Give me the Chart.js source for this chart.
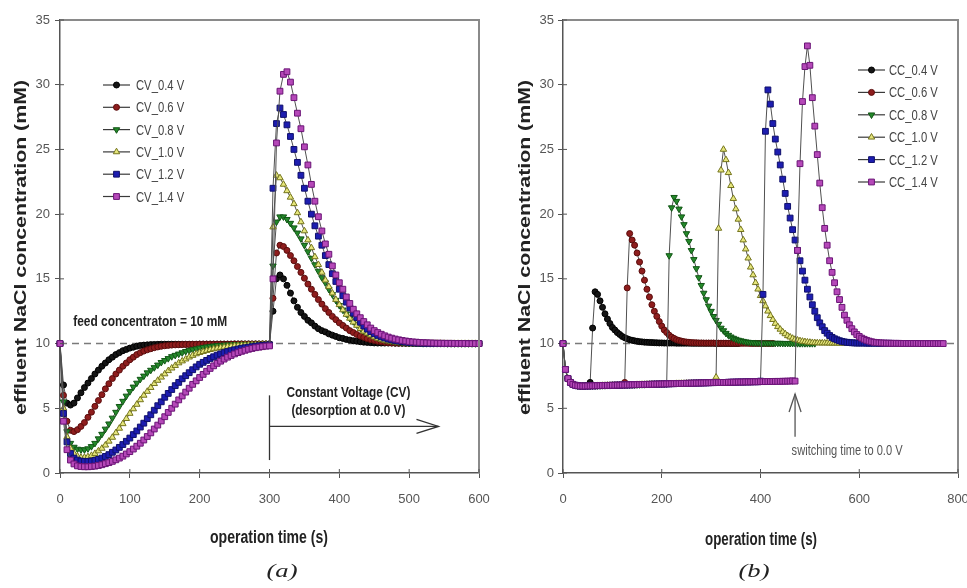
<!DOCTYPE html>
<html>
<head>
<meta charset="utf-8">
<script src="https://cdn.jsdelivr.net/npm/chart.js@4.4.0/dist/chart.umd.min.js"></script>
<style>
  html, body { margin: 0; padding: 0; background: #fff; }
  #wrap { position: relative; width: 967px; height: 588px; overflow: hidden; background: #fff; }
  #left { position: absolute; left: 0; top: 0; width: 500px; height: 588px; }
  #right { position: absolute; left: 483px; top: 0; width: 484px; height: 588px; }
</style>
</head>
<body>
<div id="wrap">
  <canvas id="left" width="500" height="588"></canvas>
  <canvas id="right" width="484" height="588"></canvas>
</div>
<script>
// sampling interval of the simulation output (s) and feed level (mM)
const STEP = 5;
const FEED = 10;

const cvLabels = ['CV_0.4 V', 'CV_0.6 V', 'CV_0.8 V', 'CV_1.0 V', 'CV_1.2 V', 'CV_1.4 V'];
const ccLabels = ['CC_0.4 V', 'CC_0.6 V', 'CC_0.8 V', 'CC_1.0 V', 'CC_1.2 V', 'CC_1.4 V'];
const xTicksA = { max: 600, step: 100 };
const xTicksB = { max: 800, step: 200 };
const yTicks = { max: 35, step: 5 };

// (a) constant voltage, t = 0..600 s every 5 s
const cv04 = [10, 6.8, 5.4, 5.25, 5.4, 5.8, 6.2, 6.6, 6.95, 7.3,
  7.65, 7.95, 8.25, 8.5, 8.75, 8.95, 9.15, 9.3, 9.45, 9.55,
  9.65, 9.72, 9.8, 9.85, 9.88, 9.9, 9.92, 9.93, 9.94, 9.95,
  9.95, 9.95, 9.95, 9.95, 9.95, 9.95, 9.95, 9.95, 9.95, 9.95,
  9.96, 9.96, 9.96, 9.96, 9.96, 9.96, 9.96, 9.96, 9.96, 9.96,
  9.97, 9.97, 9.97, 9.97, 9.97, 9.97, 9.97, 9.97, 9.97, 9.97,
  9.98,
  12.5, 15.0, 15.3, 15.0, 14.5, 13.9, 13.3, 12.8, 12.4, 12.1,
  11.8, 11.6, 11.35, 11.15, 11.0, 10.9, 10.75, 10.65, 10.55, 10.45,
  10.4, 10.32, 10.27, 10.22, 10.18, 10.14, 10.11, 10.09, 10.07, 10.05,
  10.04, 10.04, 10.04, 10.04, 10.04, 10.03, 10.03, 10.03, 10.03, 10.03,
  10.02, 10.02, 10.02, 10.02, 10.02, 10.01, 10.01, 10.01, 10.01, 10.01,
  10.0, 10.0, 10.0, 10.0, 10.0, 10.0, 10.0, 10.0, 10.0, 10.0];
const cv06 = [10, 6.0, 4.0, 3.3, 3.2, 3.35, 3.6, 3.9, 4.3, 4.7,
  5.15, 5.6, 6.05, 6.5, 6.9, 7.3, 7.65, 7.95, 8.25, 8.5,
  8.75, 8.95, 9.15, 9.3, 9.42, 9.52, 9.6, 9.68, 9.74, 9.79,
  9.83, 9.86, 9.88, 9.9, 9.91, 9.92, 9.93, 9.93, 9.94, 9.94,
  9.95, 9.95, 9.95, 9.95, 9.95, 9.95, 9.95, 9.95, 9.95, 9.95,
  9.96, 9.96, 9.96, 9.96, 9.96, 9.96, 9.96, 9.96, 9.96, 9.96,
  9.97,
  13.5, 17.0, 17.6, 17.5, 17.2, 16.8, 16.4, 15.95, 15.5, 15.05,
  14.6, 14.2, 13.8, 13.4, 13.05, 12.7, 12.4, 12.1, 11.85, 11.6,
  11.4, 11.2, 11.0, 10.85, 10.7, 10.58, 10.48, 10.38, 10.3, 10.24,
  10.18, 10.14, 10.1, 10.07, 10.05, 10.04, 10.03, 10.03, 10.02, 10.02,
  10.02, 10.01, 10.01, 10.01, 10.01, 10.01, 10.01, 10.01, 10.01, 10.01,
  10.0, 10.0, 10.0, 10.0, 10.0, 10.0, 10.0, 10.0, 10.0, 10.0];
const cv08 = [10, 5.5, 3.2, 2.3, 2.0, 1.85, 1.8, 1.8, 1.88, 2.05,
  2.3, 2.65, 3.0, 3.4, 3.8, 4.25, 4.7, 5.15, 5.55, 5.95,
  6.3, 6.65, 6.95, 7.25, 7.5, 7.75, 7.95, 8.15, 8.35, 8.55,
  8.7, 8.85, 9.0, 9.1, 9.2, 9.3, 9.4, 9.47, 9.54, 9.6,
  9.66, 9.71, 9.75, 9.79, 9.82, 9.85, 9.87, 9.89, 9.9, 9.91,
  9.92, 9.92, 9.93, 9.93, 9.94, 9.94, 9.94, 9.95, 9.95, 9.95,
  9.96,
  16.0, 19.4, 19.8, 19.8, 19.6, 19.3, 18.95, 18.55, 18.1, 17.6,
  17.1, 16.6, 16.1, 15.6, 15.1, 14.7, 14.2, 13.8, 13.35, 12.95,
  12.6, 12.3, 11.95, 11.7, 11.45, 11.2, 11.0, 10.85, 10.7, 10.58,
  10.47, 10.38, 10.3, 10.24, 10.19, 10.15, 10.11, 10.08, 10.06, 10.04,
  10.03, 10.02, 10.02, 10.01, 10.01, 10.01, 10.01, 10.01, 10.01, 10.01,
  10.0, 10.0, 10.0, 10.0, 10.0, 10.0, 10.0, 10.0, 10.0, 10.0];
const cv10 = [10, 5.0, 2.8, 1.9, 1.5, 1.3, 1.2, 1.2, 1.25, 1.35,
  1.5, 1.7, 1.9, 2.15, 2.45, 2.75, 3.1, 3.45, 3.8, 4.2,
  4.6, 4.95, 5.3, 5.65, 6.0, 6.3, 6.6, 6.9, 7.15, 7.4,
  7.65, 7.9, 8.1, 8.3, 8.5, 8.65, 8.8, 8.95, 9.08, 9.2,
  9.3, 9.38, 9.46, 9.53, 9.59, 9.64, 9.69, 9.73, 9.77, 9.8,
  9.83, 9.85, 9.87, 9.89, 9.9, 9.91, 9.92, 9.93, 9.94, 9.95,
  9.95,
  19.0, 23.0, 22.8, 22.3, 21.8, 21.3, 20.8, 20.1, 19.4, 18.7,
  18.0, 17.4, 16.7, 16.1, 15.5, 14.9, 14.4, 13.9, 13.4, 13.0,
  12.6, 12.25, 11.95, 11.65, 11.4, 11.15, 10.95, 10.8, 10.65, 10.5,
  10.4, 10.32, 10.25, 10.2, 10.15, 10.12, 10.09, 10.07, 10.05, 10.04,
  10.03, 10.02, 10.02, 10.01, 10.01, 10.01, 10.01, 10.01, 10.01, 10.01,
  10.0, 10.0, 10.0, 10.0, 10.0, 10.0, 10.0, 10.0, 10.0, 10.0];
const cv12 = [10, 4.6, 2.4, 1.5, 1.15, 1.0, 0.92, 0.9, 0.9, 0.92,
  0.97, 1.05, 1.15, 1.28, 1.42, 1.6, 1.78, 1.98, 2.2, 2.45,
  2.7, 2.97, 3.25, 3.55, 3.85, 4.2, 4.5, 4.85, 5.2, 5.5,
  5.85, 6.15, 6.45, 6.75, 7.0, 7.28, 7.52, 7.75, 7.98, 8.2,
  8.4, 8.55, 8.7, 8.85, 8.98, 9.1, 9.2, 9.3, 9.38, 9.45,
  9.52, 9.58, 9.64, 9.68, 9.72, 9.76, 9.8, 9.83, 9.86, 9.88,
  9.9,
  22.0, 27.0, 28.2, 27.7, 26.9, 26.0, 25.0, 24.0, 23.0, 22.0,
  21.0, 20.0, 19.1, 18.3, 17.6, 16.8, 16.1, 15.4, 14.8, 14.2,
  13.7, 13.2, 12.75, 12.35, 12.0, 11.65, 11.35, 11.12, 10.92, 10.76,
  10.63, 10.52, 10.43, 10.35, 10.29, 10.24, 10.19, 10.15, 10.12, 10.09,
  10.07, 10.05, 10.04, 10.03, 10.02, 10.01, 10.01, 10.01, 10.01, 10.01,
  10.0, 10.0, 10.0, 10.0, 10.0, 10.0, 10.0, 10.0, 10.0, 10.0];
const cv14 = [10, 4.0, 1.8, 1.0, 0.7, 0.55, 0.5, 0.48, 0.48, 0.5,
  0.53, 0.58, 0.64, 0.72, 0.8, 0.9, 1.02, 1.15, 1.3, 1.47,
  1.65, 1.85, 2.07, 2.3, 2.55, 2.82, 3.1, 3.4, 3.7, 4.02,
  4.35, 4.68, 5.0, 5.32, 5.65, 5.95, 6.25, 6.55, 6.85, 7.12,
  7.38, 7.62, 7.86, 8.08, 8.28, 8.47, 8.64, 8.8, 8.95, 9.08,
  9.2, 9.3, 9.4, 9.48, 9.56, 9.62, 9.68, 9.72, 9.76, 9.8,
  9.82,
  15.0, 25.5, 29.5, 30.8, 31.0, 30.2, 29.0, 27.8, 26.6, 25.2,
  23.8, 22.3, 21.0, 19.8, 18.7, 17.7, 16.9, 16.0, 15.3, 14.7,
  14.2, 13.6, 13.1, 12.65, 12.3, 12.0, 11.7, 11.45, 11.2, 11.0,
  10.85, 10.72, 10.6, 10.5, 10.42, 10.35, 10.29, 10.24, 10.2, 10.16,
  10.13, 10.11, 10.09, 10.07, 10.06, 10.05, 10.04, 10.03, 10.03, 10.02,
  10.02, 10.02, 10.01, 10.01, 10.01, 10.01, 10.0, 10.0, 10.0, 10.0];

// (b) constant current: shared charging curve (t = 0..465 s), then release after the switch
const ccCharge = [10, 8.0, 7.3, 7.0, 6.85, 6.78, 6.74, 6.72, 6.72, 6.72,
  6.73, 6.73, 6.74, 6.74, 6.75, 6.75, 6.76, 6.76, 6.77, 6.77,
  6.78, 6.78, 6.79, 6.79, 6.8, 6.8, 6.81, 6.81, 6.82, 6.82,
  6.83, 6.83, 6.84, 6.84, 6.85, 6.85, 6.86, 6.86, 6.87, 6.87,
  6.88, 6.88, 6.89, 6.89, 6.9, 6.9, 6.91, 6.91, 6.92, 6.92,
  6.93, 6.93, 6.94, 6.94, 6.95, 6.95, 6.96, 6.96, 6.97, 6.97,
  6.98, 6.98, 6.99, 6.99, 7.0, 7.0, 7.0, 7.01, 7.01, 7.02,
  7.02, 7.03, 7.03, 7.03, 7.04, 7.04, 7.04, 7.05, 7.05, 7.05,
  7.06, 7.06, 7.06, 7.07, 7.07, 7.07, 7.08, 7.08, 7.08, 7.09,
  7.09, 7.1, 7.1, 7.12];
const ccSwitch = [55, 125, 210, 310, 400, 470];
const cc04Release = [7.0, 11.2, 14.0, 13.8, 13.3, 12.8, 12.3, 11.9, 11.55, 11.25,
  11.05, 10.85, 10.7, 10.55, 10.45, 10.37, 10.3, 10.25, 10.21, 10.18,
  10.15, 10.13, 10.11, 10.1, 10.09, 10.08, 10.07, 10.06, 10.05, 10.05,
  10.04, 10.04, 10.04, 10.04, 10.04, 10.03, 10.03, 10.03, 10.03, 10.03,
  10.03, 10.02, 10.02, 10.02, 10.02, 10.02, 10.02, 10.02, 10.02, 10.02,
  10.02, 10.01, 10.01, 10.01, 10.01, 10.01, 10.01, 10.01, 10.01, 10.01,
  10.01];
const cc06Release = [7.0, 14.3, 18.5, 18.0, 17.6, 17.0, 16.3, 15.6, 14.9, 14.2,
  13.6, 13.0, 12.5, 12.1, 11.7, 11.35, 11.05, 10.85, 10.65, 10.5,
  10.4, 10.3, 10.24, 10.19, 10.15, 10.12, 10.1, 10.08, 10.07, 10.06,
  10.05, 10.05, 10.04, 10.04, 10.04, 10.04, 10.04, 10.03, 10.03, 10.03,
  10.03, 10.03, 10.03, 10.02, 10.02, 10.02, 10.02, 10.02, 10.02, 10.02,
  10.02, 10.01, 10.01, 10.01, 10.01, 10.01, 10.01, 10.01, 10.01, 10.01,
  10.01];
const cc08Release = [6.9, 16.8, 20.5, 21.3, 21.0, 20.4, 19.8, 19.2, 18.5, 17.9,
  17.2, 16.5, 15.8, 15.1, 14.5, 13.9, 13.4, 12.9, 12.5, 12.1,
  11.8, 11.5, 11.2, 11.0, 10.8, 10.65, 10.52, 10.42, 10.34, 10.27,
  10.22, 10.18, 10.14, 10.11, 10.09, 10.07, 10.06, 10.05, 10.04, 10.04,
  10.04, 10.04, 10.03, 10.03, 10.03, 10.03, 10.03, 10.02, 10.02, 10.02,
  10.02, 10.02, 10.02, 10.01, 10.01, 10.01, 10.01, 10.01, 10.01, 10.01,
  10.01];
const cc10Release = [7.4, 18.9, 23.4, 25.0, 24.2, 23.2, 22.2, 21.2, 20.4, 19.6,
  18.8, 18.0, 17.3, 16.6, 15.9, 15.3, 14.7, 14.2, 13.7, 13.3,
  12.9, 12.5, 12.15, 11.85, 11.55, 11.3, 11.1, 10.9, 10.75, 10.6,
  10.5, 10.4, 10.32, 10.26, 10.21, 10.17, 10.14, 10.11, 10.09, 10.07,
  10.06, 10.05, 10.04, 10.04, 10.04, 10.04, 10.03, 10.03, 10.03, 10.03,
  10.02, 10.02, 10.02, 10.02, 10.02, 10.01, 10.01, 10.01, 10.01, 10.01,
  10.01];
const cc12Release = [7.1, 13.8, 26.4, 29.6, 28.5, 27.0, 25.8, 24.8, 23.8, 22.7,
  21.6, 20.6, 19.7, 18.8, 18.0, 17.2, 16.4, 15.6, 14.9, 14.2,
  13.6, 13.0, 12.5, 12.0, 11.6, 11.3, 11.0, 10.8, 10.62, 10.48,
  10.37, 10.29, 10.22, 10.17, 10.13, 10.1, 10.08, 10.06, 10.05, 10.04,
  10.04, 10.04, 10.04, 10.03, 10.03, 10.03, 10.03, 10.03, 10.02, 10.02,
  10.02, 10.02, 10.02, 10.02, 10.01, 10.01, 10.01, 10.01, 10.01, 10.01,
  10.01];
const cc14Release = [7.1, 17.2, 23.9, 28.7, 31.4, 33.0, 31.5, 29.0, 26.8, 24.6,
  22.4, 20.5, 18.9, 17.6, 16.4, 15.5, 14.7, 14.0, 13.4, 12.8,
  12.2, 11.8, 11.45, 11.15, 10.9, 10.7, 10.55, 10.42, 10.33, 10.25,
  10.19, 10.14, 10.1, 10.08, 10.06, 10.05, 10.04, 10.03, 10.03, 10.02,
  10.02, 10.02, 10.02, 10.01, 10.01, 10.01, 10.01, 10.01, 10.01, 10.01,
  10.01, 10.0, 10.0, 10.0, 10.0, 10.0, 10.0, 10.0, 10.0, 10.0,
  10.0];

const FONT = "'Liberation Sans', Arial, Helvetica, sans-serif";
Chart.defaults.font.family = FONT;

// marker look per voltage (same in both panels)
const markers = [
  { style: 'circle',   rot: 0,   r: 3.0, fill: '#151515', edge: '#000000' },
  { style: 'circle',   rot: 0,   r: 3.0, fill: '#8e1d1d', edge: '#5a0c0c' },
  { style: 'triangle', rot: 180, r: 3.7, fill: '#24892a', edge: '#115515' },
  { style: 'triangle', rot: 0,   r: 3.7, fill: '#e6e67c', edge: '#74741c' },
  { style: 'rect',     rot: 0,   r: 4.1, fill: '#1d1db0', edge: '#10106c' },
  { style: 'rect',     rot: 0,   r: 4.1, fill: '#b548b8', edge: '#6a1476' }
];

function cvPoints(vals) {
  return vals.map((v, i) => ({ x: i * STEP, y: v }));
}

function ccPoints(k, release) {
  const pts = [];
  const n = ccSwitch[k] / STEP;
  for (let i = 0; i < n; i++) pts.push({ x: i * STEP, y: ccCharge[i] });
  release.forEach((v, j) => pts.push({ x: ccSwitch[k] + j * STEP, y: v }));
  return pts;
}

function buildDatasets(series, labels, xMax) {
  const sets = [{
    label: 'feed', data: [{ x: 0, y: FEED }, { x: xMax, y: FEED }],
    borderColor: '#7a7a7a', borderWidth: 1.6, borderDash: [7, 5],
    pointRadius: 0, order: 10, clip: false
  }];
  series.forEach((pts, k) => {
    const m = markers[k];
    sets.push({
      label: labels[k], data: pts, order: 6 - k, clip: false,
      borderColor: '#505050', borderWidth: 1, tension: 0,
      pointStyle: m.style, pointRotation: m.rot, pointRadius: m.r,
      pointBackgroundColor: m.fill, pointBorderColor: m.edge, pointBorderWidth: 1
    });
  });
  return sets;
}

function drawMarker(ctx, m, x, y) {
  ctx.fillStyle = m.fill;
  ctx.strokeStyle = m.edge;
  ctx.lineWidth = 1;
  if (Chart.helpers && Chart.helpers.drawPoint) {
    Chart.helpers.drawPoint(ctx, { pointStyle: m.style, rotation: m.rot, radius: m.r, borderWidth: 1 }, x, y);
    return;
  }
  ctx.beginPath();
  ctx.arc(x, y, m.r, 0, Math.PI * 2);
  ctx.fill(); ctx.stroke();
}

// text squeezed horizontally to a target width (the source figure is compressed sideways)
function fitText(ctx, str, x, y, o) {
  ctx.save();
  ctx.font = o.font;
  ctx.fillStyle = o.color || '#222';
  ctx.textBaseline = 'alphabetic';
  ctx.textAlign = o.align || 'left';
  ctx.translate(x, y);
  if (o.rot) ctx.rotate(o.rot);
  const w = ctx.measureText(str).width;
  ctx.scale(o.width ? o.width / w : (o.sx || 1), 1);
  ctx.fillText(str, 0, 0);
  ctx.restore();
}

function seg(ctx, x0, y0, x1, y1) {
  ctx.beginPath(); ctx.moveTo(x0, y0); ctx.lineTo(x1, y1); ctx.stroke();
}

function decoPlugin(spec) {
  return {
    id: 'deco',
    afterDraw(chart) {
      const ctx = chart.ctx, a = chart.chartArea;
      const xs = chart.scales.x, ys = chart.scales.y;
      const px = t => xs.getPixelForValue(t), py = v => ys.getPixelForValue(v);
      ctx.save();

      // top and right frame
      ctx.strokeStyle = '#8a8a8a'; ctx.lineWidth = 2;
      ctx.beginPath(); ctx.moveTo(a.left, a.top); ctx.lineTo(a.right, a.top); ctx.lineTo(a.right, a.bottom); ctx.stroke();

      // small inward tick marks
      ctx.strokeStyle = '#555'; ctx.lineWidth = 1;
      xs.ticks.forEach(t => { const x = px(t.value); seg(ctx, x, a.bottom, x, a.bottom - 4); });
      ys.ticks.forEach(t => { const y = py(t.value); seg(ctx, a.left, y, a.left + 4, y); });

      // legend
      const L = spec.legend;
      spec.labels.forEach((lab, k) => {
        const y = L.y + k * L.dy;
        ctx.strokeStyle = '#3a3a3a'; ctx.lineWidth = 1.2;
        seg(ctx, L.x0, y, L.x1, y);
        drawMarker(ctx, markers[k], (L.x0 + L.x1) / 2, y);
        fitText(ctx, lab, L.tx, y + 5, { font: '15px ' + FONT, color: '#444', sx: 0.75 });
      });

      // annotations in data coordinates
      ctx.strokeStyle = '#333'; ctx.lineWidth = 1.3;
      (spec.lines || []).forEach(s => seg(ctx, px(s.t0), py(s.v0), px(s.t1), py(s.v1)));
      (spec.arrows || []).forEach(s => {
        ctx.strokeStyle = s.color || '#333';
        const x0 = px(s.t0), y0 = py(s.v0), x1 = px(s.t1), y1 = py(s.v1);
        seg(ctx, x0, y0, x1, y1);
        const len = Math.hypot(x1 - x0, y1 - y0), ux = (x1 - x0) / len, uy = (y1 - y0) / len;
        const bx = x1 - ux * s.head, by = y1 - uy * s.head;
        ctx.beginPath();
        ctx.moveTo(bx - uy * s.half, by + ux * s.half);
        ctx.lineTo(x1, y1);
        ctx.lineTo(bx + uy * s.half, by - ux * s.half);
        ctx.stroke();
      });
      (spec.texts || []).forEach(s => fitText(ctx, s.str, px(s.t), py(s.v), s));

      // axis titles and panel letter
      const T = spec.titles;
      fitText(ctx, 'effluent NaCl concentration (mM)', a.left + T.yOff, (a.top + a.bottom) / 2 + 1,
        { font: 'bold 16px ' + FONT, align: 'center', rot: -Math.PI / 2, width: 335, color: '#222' });
      fitText(ctx, 'operation time (s)', T.xCenter, T.xBase,
        { font: 'bold 18px ' + FONT, align: 'center', width: T.xWidth, color: '#222' });
      fitText(ctx, T.panel, T.pCenter, 577,
        { font: "italic 19px 'Liberation Serif', 'Times New Roman', serif", align: 'center', width: 31, color: '#222' });

      ctx.restore();
    }
  };
}

function makeChart(id, datasets, o, spec) {
  const tickFont = { family: FONT, size: 13 };
  return new Chart(document.getElementById(id), {
    type: 'line',
    data: { datasets },
    options: {
      responsive: false, animation: false, devicePixelRatio: 1, events: [],
      layout: { padding: { left: 0, right: o.padRight, top: 20, bottom: 0 } },
      plugins: { legend: { display: false }, tooltip: { enabled: false } },
      scales: {
        x: {
          type: 'linear', min: 0, max: o.x.max,
          ticks: { stepSize: o.x.step, padding: 14, color: '#555', font: tickFont, maxRotation: 0, autoSkip: false },
          grid: { drawOnChartArea: false, tickLength: 5, color: '#555' },
          border: { color: '#555', width: 1.5 },
          afterFit(s) { s.height = 115; s.paddingLeft = 0; s.paddingRight = 0; }
        },
        y: {
          type: 'linear', min: 0, max: yTicks.max,
          ticks: { stepSize: yTicks.step, padding: o.yPad, color: '#555', font: tickFont },
          grid: { drawOnChartArea: false, tickLength: 5, color: '#555' },
          border: { color: '#555', width: 1.5 },
          afterFit(s) { s.width = o.yWidth; s.paddingTop = 0; s.paddingBottom = 0; }
        }
      }
    },
    plugins: [decoPlugin(spec)]
  });
}

const cvSeries = [cv04, cv06, cv08, cv10, cv12, cv14].map(cvPoints);
const ccSeries = [cc04Release, cc06Release, cc08Release, cc10Release, cc12Release, cc14Release]
  .map((r, k) => ccPoints(k, r));

makeChart('left', buildDatasets(cvSeries, cvLabels, xTicksA.max),
  { x: xTicksA, padRight: 21, yWidth: 60, yPad: 5 },
  {
    labels: cvLabels,
    legend: { x0: 103, x1: 130, tx: 136, y: 85, dy: 22.3 },
    lines: [{ t0: 300, v0: 6.0, t1: 300, v1: 1.0 }],
    arrows: [{ t0: 300, v0: 3.6, t1: 542, v1: 3.6, head: 22, half: 7 }],
    texts: [
      { str: 'feed concentraton = 10 mM', t: 19, v: 11.35, font: 'bold 15px ' + FONT, width: 154, color: '#222' },
      { str: 'Constant Voltage (CV)', t: 413, v: 5.9, align: 'center', font: 'bold 15px ' + FONT, width: 124, color: '#222' },
      { str: '(desorption at 0.0 V)', t: 413, v: 4.48, align: 'center', font: 'bold 15px ' + FONT, width: 114, color: '#222' }
    ],
    titles: { yOff: -34, xCenter: 269, xBase: 543, xWidth: 118, panel: '(a)', pCenter: 282 }
  });

makeChart('right', buildDatasets(ccSeries, ccLabels, xTicksB.max),
  { x: xTicksB, padRight: 9, yWidth: 80, yPad: 4 },
  {
    labels: ccLabels,
    legend: { x0: 375, x1: 402, tx: 406, y: 70, dy: 22.4 },
    arrows: [{ t0: 470, v0: 2.8, t1: 470, v1: 6.1, head: 18, half: 6, color: '#555' }],
    texts: [
      { str: 'switching time to 0.0 V', t: 463, v: 1.39, font: '15px ' + FONT, width: 111, color: '#555' }
    ],
    titles: { yOff: -33, xCenter: 278, xBase: 545, xWidth: 112, panel: '(b)', pCenter: 271 }
  });
</script>
</body>
</html>
